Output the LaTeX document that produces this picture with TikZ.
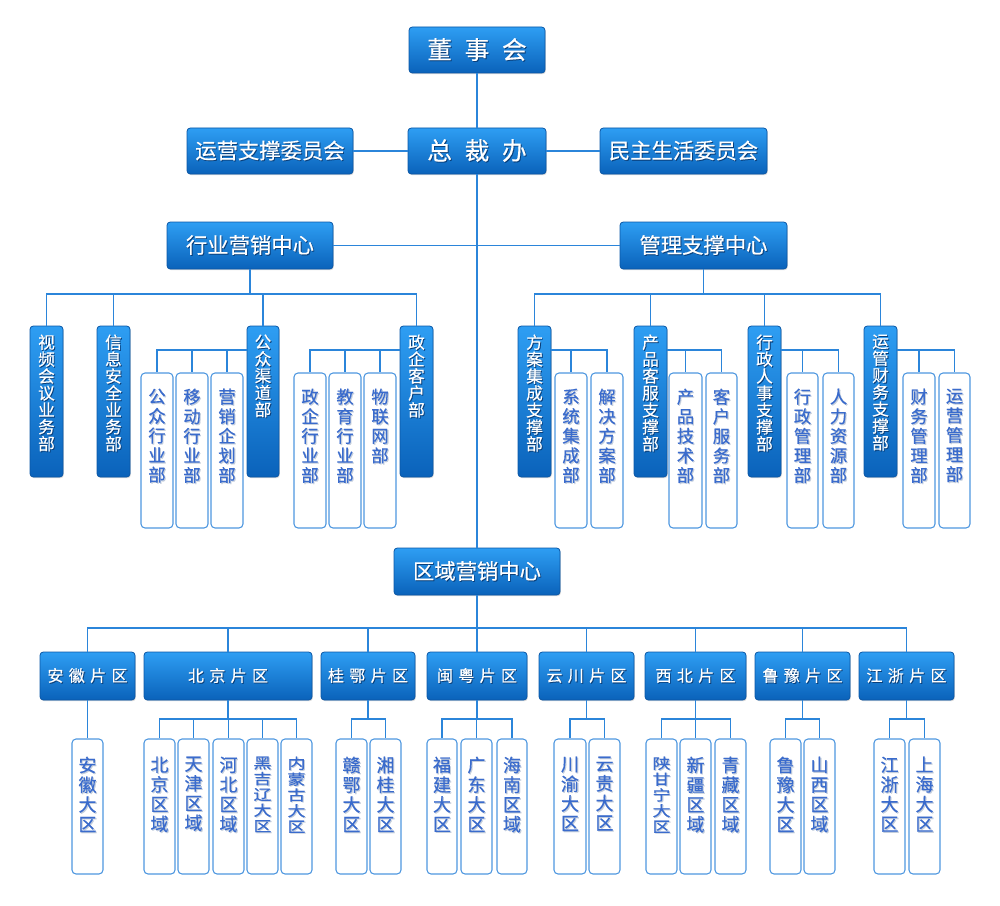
\documentclass[tikz,border=0pt]{standalone}
\usepackage{graphicx}
\usepackage{fontspec}
\setmainfont[FakeBold=0.45]{Noto Sans CJK SC}
\usetikzlibrary{shadows}
\definecolor{ln}{HTML}{2B85DA}
\definecolor{btop}{HTML}{2E9EF3}
\definecolor{bbot}{HTML}{0A62BA}
\definecolor{bdr}{HTML}{0B57A6}
\definecolor{lbdr}{HTML}{4E97E0}
\definecolor{ltxt}{HTML}{3A6BCC}
\definecolor{lshd}{HTML}{C4CEDC}
\definecolor{dshd}{HTML}{0A3F7A}
\newcommand\shw[1]{\rlap{\kern0.7pt\raisebox{-0.7pt}{\color{dshd}#1}}#1}
\newcommand\shl[1]{\rlap{\kern0.8pt\raisebox{-0.8pt}{\color{lshd}#1}}#1}
\newcommand\shls[1]{\scalebox{1}[0.8]{\shl{#1}}}
\makeatletter
\newcommand\VT[3]{\vbox{\baselineskip=#1\lineskiplimit=-100pt\lineskip=0pt\let\VTc#2\VT@loop#3\relax}}
\def\VT@loop#1{\ifx\relax#1\else\hbox to 1em{\hss\VTc{#1}\hss}\expandafter\VT@loop\fi}
\makeatother
\tikzset{
  bbox/.style={draw=bdr, line width=0.6pt, top color=btop, bottom color=bbot, rounded corners=2.5pt, inner sep=0pt, text=white,
    drop shadow={shadow xshift=0.6pt, shadow yshift=-0.9pt, opacity=0.3}},
  lbox/.style={draw=lbdr, line width=0.8pt, fill=white, rounded corners=3pt, inner sep=0pt},
  conn/.style={draw=ln, line width=1.1pt},
  bigf/.style={font=\fontsize{18.5pt}{20pt}\selectfont},
  midf/.style={font=\fontsize{16pt}{18pt}\selectfont},
  regf/.style={font=\fontsize{12pt}{14pt}\selectfont},
  vtd/.style={anchor=north, inner sep=0pt, text=white, font=\fontsize{12.5pt}{12.7pt}\selectfont},
  vts/.style={anchor=north, inner sep=0pt, text=ltxt, font=\fontsize{13pt}{14.7pt}\selectfont},
  vtl/.style={anchor=north, inner sep=0pt, text=ltxt, font=\fontsize{13.5pt}{14.8pt}\selectfont},
}
\newcommand\BX[6]{\node[#6, minimum width={(#4-#2)*0.75pt}, minimum height={(#5-#3)*0.75pt}] (#1) at ({(#2+#4)/2},{(#3+#5)/2})}
\newcommand\DK[6]{\BX{#1}{#2}{#3}{#4}{#5}{bbox}{};
  \node[vtd] (#1t) at ([yshift=-6.5pt]#1.north) {\VT{12.7pt}{\shw}{#6}};}
\newcommand\SB[6]{\BX{#1}{#2}{#3}{#4}{#5}{lbox}{};
  \node[vts] (#1t) at ([yshift=-12pt]#1.north) {\VT{14.7pt}{\shl}{#6}};}
\newcommand\LF[6]{\BX{#1}{#2}{#3}{#4}{#5}{lbox}{};
  \node[vtl] (#1t) at ([yshift=-13.5pt]#1.north) {\VT{14.8pt}{\shl}{#6}};}
\newcommand\LFS[6]{\BX{#1}{#2}{#3}{#4}{#5}{lbox}{};
  \node[vtl] (#1t) at ([yshift=-13.5pt]#1.north) {\VT{11.85pt}{\shls}{#6}};}
\newcommand\gp{\kern4pt}
\begin{document}
\begin{tikzpicture}[x=0.75pt, y=-0.75pt]
\useasboundingbox (0,0) rectangle (1000,906);
% top level
\BX{dsh}{409}{27}{545}{73}{bbox,bigf}{\shw{董\kern9.5pt 事\kern9.5pt 会}};
\BX{zcb}{408}{128}{546}{174}{bbox,bigf}{\shw{总\kern9.5pt 裁\kern9.5pt 办}};
\BX{yyzc}{187}{128}{353}{174}{bbox,midf}{\shw{运营支撑委员会}};
\BX{mzsh}{600}{128}{767}{174}{bbox,midf}{\shw{民主生活委员会}};
\BX{hyyx}{167}{222}{333}{269}{bbox,midf}{\shw{行业营销中心}};
\BX{glzc}{620}{222}{787}{269}{bbox,midf}{\shw{管理支撑中心}};
\BX{qyyx}{394}{548}{560}{595}{bbox,midf}{\shw{区域营销中心}};
% dark vertical boxes
\DK{d1}{30}{326}{63}{477}{视频会议业务部}
\DK{d2}{97}{326}{130}{477}{信息安全业务部}
\DK{d3}{247}{326}{279}{477}{公众渠道部}
\DK{d4}{400}{326}{433}{477}{政企客户部}
\DK{d5}{518}{326}{551}{477}{方案集成支撑部}
\DK{d6}{634}{326}{667}{477}{产品客服支撑部}
\DK{d7}{748}{326}{781}{477}{行政人事支撑部}
\DK{d8}{864}{326}{897}{477}{运管财务支撑部}
% sub boxes
\SB{s1}{141}{373}{173}{528}{公众行业部}
\SB{s2}{176}{373}{208}{528}{移动行业部}
\SB{s3}{211}{373}{243}{528}{营销企划部}
\SB{s4}{294}{373}{326}{528}{政企行业部}
\SB{s5}{329}{373}{361}{528}{教育行业部}
\SB{s6}{364}{373}{396}{528}{物联网部}
\SB{s7}{555}{373}{587}{528}{系统集成部}
\SB{s8}{591}{373}{623}{528}{解决方案部}
\SB{s9}{669}{373}{702}{528}{产品技术部}
\SB{s10}{706}{373}{737}{528}{客户服务部}
\SB{s11}{787}{373}{818}{528}{行政管理部}
\SB{s12}{823}{373}{854}{528}{人力资源部}
\SB{s13}{903}{373}{935}{528}{财务管理部}
\SB{s14}{939}{373}{970}{528}{运营管理部}
% regions
\BX{r1}{40}{652}{135}{700}{bbox,regf}{\shw{安\gp 徽\gp 片\gp 区}};
\BX{r2}{144}{652}{312}{700}{bbox,regf}{\shw{北\gp 京\gp 片\gp 区}};
\BX{r3}{321}{652}{415}{700}{bbox,regf}{\shw{桂\gp 鄂\gp 片\gp 区}};
\BX{r4}{427}{652}{527}{700}{bbox,regf}{\shw{闽\gp 粤\gp 片\gp 区}};
\BX{r5}{539}{652}{634}{700}{bbox,regf}{\shw{云\gp 川\gp 片\gp 区}};
\BX{r6}{645}{652}{746}{700}{bbox,regf}{\shw{西\gp 北\gp 片\gp 区}};
\BX{r7}{755}{652}{850}{700}{bbox,regf}{\shw{鲁\gp 豫\gp 片\gp 区}};
\BX{r8}{859}{652}{954}{700}{bbox,regf}{\shw{江\gp 浙\gp 片\gp 区}};
% leaves
\LF{l1}{72}{739}{103}{874}{安徽大区}
\LF{l2}{144}{739}{175}{874}{北京区域}
\LF{l3}{178}{739}{209}{874}{天津区域}
\LF{l4}{213}{739}{244}{874}{河北区域}
\LFS{l5}{247}{739}{278}{874}{黑吉辽大区}
\LFS{l6}{281}{739}{312}{874}{内蒙古大区}
\LF{l7}{336}{739}{367}{874}{赣鄂大区}
\LF{l8}{370}{739}{401}{874}{湘桂大区}
\LF{l9}{427}{739}{457}{874}{福建大区}
\LF{l10}{461}{739}{492}{874}{广东大区}
\LF{l11}{497}{739}{527}{874}{海南区域}
\LF{l12}{554}{739}{586}{874}{川渝大区}
\LF{l13}{589}{739}{620}{874}{云贵大区}
\LFS{l14}{646}{739}{677}{874}{陕甘宁大区}
\LF{l15}{680}{739}{711}{874}{新疆区域}
\LF{l16}{715}{739}{746}{874}{青藏区域}
\LF{l17}{770}{739}{801}{874}{鲁豫大区}
\LF{l18}{804}{739}{835}{874}{山西区域}
\LF{l19}{874}{739}{905}{874}{江浙大区}
\LF{l20}{909}{739}{940}{874}{上海大区}
% buses
\coordinate (b1) at (0,294);
\coordinate (b2) at (0,350);
\coordinate (b3) at (0,628);
\coordinate (b4) at (0,719);
% connectors
\draw[conn] (dsh.south) -- (zcb.north);
\draw[conn] (zcb.south) -- (qyyx.north);
\draw[conn] (yyzc.east) -- (zcb.west);
\draw[conn] (zcb.east) -- (mzsh.west);
\draw[conn] (hyyx.east) -- (glzc.west);
\foreach \c in {d1,d2,d3,d4} \draw[conn] (hyyx.south) -- (hyyx.south |- b1) -| (\c.north);
\foreach \c in {d5,d6,d7,d8} \draw[conn] (glzc.south) -- (glzc.south |- b1) -| (\c.north);
\foreach \c in {s1,s2,s3} \draw[conn] (d3.west |- b2) -| (\c.north);
\foreach \c in {s4,s5,s6} \draw[conn] (d4.west |- b2) -| (\c.north);
\foreach \c in {s7,s8} \draw[conn] (d5.east |- b2) -| (\c.north);
\foreach \c in {s9,s10} \draw[conn] (d6.east |- b2) -| (\c.north);
\foreach \c in {s11,s12} \draw[conn] (d7.east |- b2) -| (\c.north);
\foreach \c in {s13,s14} \draw[conn] (d8.east |- b2) -| (\c.north);
\foreach \c in {r1,r2,r3,r4,r5,r6,r7,r8} \draw[conn] (qyyx.south) -- (qyyx.south |- b3) -| (\c.north);
\draw[conn] (r1.south) -- (l1.north);
\foreach \c in {l2,l3,l4,l5,l6} \draw[conn] (r2.south) -- (r2.south |- b4) -| (\c.north);
\foreach \c in {l7,l8} \draw[conn] (r3.south) -- (r3.south |- b4) -| (\c.north);
\foreach \c in {l9,l10,l11} \draw[conn] (r4.south) -- (r4.south |- b4) -| (\c.north);
\foreach \c in {l12,l13} \draw[conn] (r5.south) -- (r5.south |- b4) -| (\c.north);
\foreach \c in {l14,l15,l16} \draw[conn] (r6.south) -- (r6.south |- b4) -| (\c.north);
\foreach \c in {l17,l18} \draw[conn] (r7.south) -- (r7.south |- b4) -| (\c.north);
\foreach \c in {l19,l20} \draw[conn] (r8.south) -- (r8.south |- b4) -| (\c.north);
\end{tikzpicture}
\end{document}
